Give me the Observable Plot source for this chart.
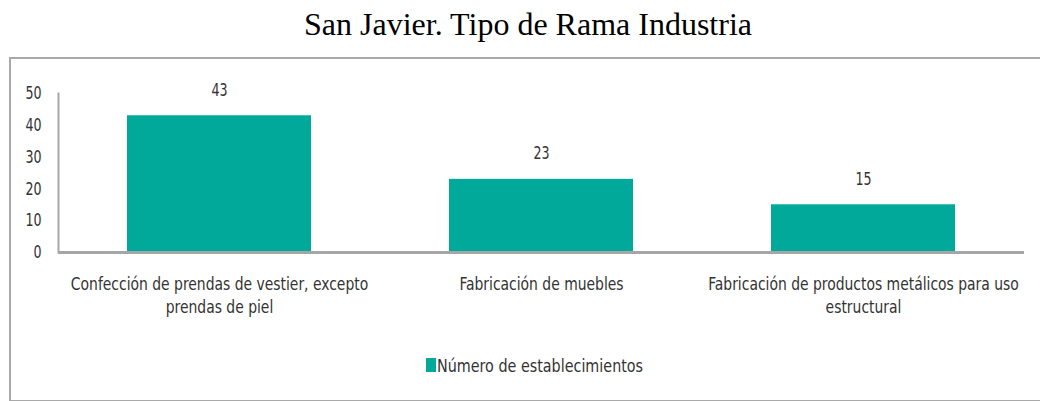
<!DOCTYPE html>
<html>
<head>
<meta charset="utf-8">
<script src="https://cdn.jsdelivr.net/npm/d3@7"></script>
<script src="https://cdn.jsdelivr.net/npm/@observablehq/plot@0.6"></script>
<style>
  html, body { margin: 0; padding: 0; background: #fff; }
  body { position: relative; width: 1040px; height: 401px; overflow: hidden; }
  #title { position: absolute; left: 0; top: 6px; width: 1056px; text-align: center;
    font-family: "Liberation Serif", "Times New Roman", serif; font-size: 32px; color: #000; white-space: nowrap; }
  #frame { position: absolute; left: 9px; top: 57px; width: 1100px; height: 341px;
    border: 2px solid #a9a9a9; }
  #chart { position: absolute; left: 0; top: 57px; }
  #legend { position: absolute; left: 426px; top: 355px; height: 20px; display: flex; align-items: center;
    font-family: "DejaVu Sans Condensed", "Liberation Sans Narrow", sans-serif;
    font-size: 18px; color: #333; white-space: nowrap; }
  #legend .sw { width: 10px; height: 14px; margin-right: 1px; flex: none; }
  #legend span { display: inline-block; transform: scaleX(0.885); transform-origin: left center; }
</style>
</head>
<body>
<div id="title">San Javier. Tipo de Rama Industria</div>
<div id="frame"></div>
<div id="chart"></div>
<div id="legend"></div>
<script>
const categories = [
  "Confección de prendas de vestier, excepto prendas de piel",
  "Fabricación de muebles",
  "Fabricación de productos metálicos para uso estructural"
];
const tickLabels = [
  "Confección de prendas de vestier, excepto\nprendas de piel",
  "Fabricación de muebles",
  "Fabricación de productos metálicos para uso\nestructural"
];
const values = [43, 23, 15];
const seriesName = "Número de establecimientos";
const yTicks = [0, 10, 20, 30, 40, 50];
const barColor = "#00a99a";

const data = categories.map((c, i) => ({category: c, value: values[i]}));
const font = '"DejaVu Sans Condensed", "Liberation Sans Narrow", sans-serif';

const chart = Plot.plot({
  width: 1040,
  height: 290,
  marginTop: 36,
  marginBottom: 95,
  marginLeft: 58,
  marginRight: 16,
  style: {fontFamily: font, fontSize: "18px", color: "#333", background: "transparent", overflow: "visible"},
  x: {domain: categories, paddingInner: 0.43, paddingOuter: 0.215},
  y: {domain: [0, 50]},
  marks: [
    Plot.barY(data, {x: "category", y: "value", fill: barColor}),
    Plot.text(data, {x: "category", y: "value", text: d => String(d.value), dy: -26, fill: "#333", fontSize: 18}),
    Plot.axisY({ticks: yTicks, tickSize: 0, tickPadding: 17, label: null, fontSize: 18}),
    Plot.axisX({tickSize: 0, tickPadding: 21, label: null, lineHeight: 1.28, fontSize: 18,
      tickFormat: c => tickLabels[categories.indexOf(c)]}),
    Plot.frame({anchor: "left", stroke: "#a6a6a6", strokeWidth: 2}),
    Plot.ruleY([0], {stroke: "#a6a6a6", strokeWidth: 3})
  ]
});
document.getElementById("chart").appendChild(chart);

// condense the sans text horizontally (about its anchor), like the narrow face of the original
chart.querySelectorAll("text").forEach(el => {
  const isNumber = /^\d+$/.test(el.textContent.trim());
  const s = isNumber ? 0.78 : 0.86;
  const b = el.getBBox();
  const anchor = getComputedStyle(el).textAnchor;
  const ax = anchor === "end" ? b.x + b.width : anchor === "middle" ? b.x + b.width / 2 : b.x;
  const t = el.getAttribute("transform") || "";
  el.setAttribute("transform", `${t} matrix(${s},0,0,1,${ax * (1 - s)},0)`.trim());
});

const lg = document.getElementById("legend");
lg.innerHTML = `<div class="sw" style="background:${barColor}"></div><span>${seriesName}</span>`;
</script>
</body>
</html>
